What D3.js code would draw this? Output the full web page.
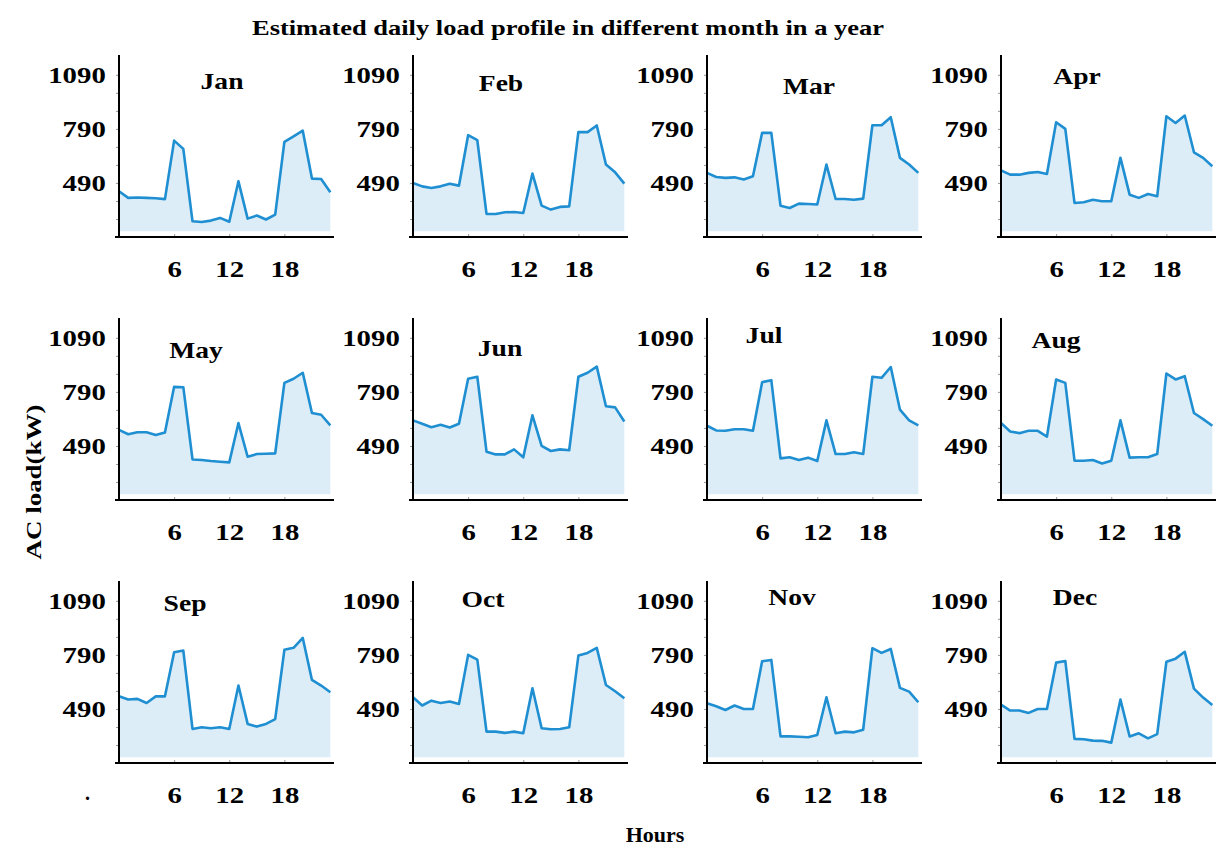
<!DOCTYPE html>
<html>
<head>
<meta charset="utf-8">
<script src="https://cdn.jsdelivr.net/npm/d3@7"></script>
<style>
  body { margin: 0; background: #fff; }
  text { font-family: "Liberation Serif", "Times New Roman", serif; font-weight: bold; }
</style>
</head>
<body>
<svg id="chart" width="1222" height="849"></svg>
<script>
// hourly AC load (kW), hours 0..23
var months = ["Jan", "Feb", "Mar", "Apr", "May", "Jun", "Jul", "Aug", "Sep", "Oct", "Nov", "Dec"];
var hours = d3.range(0, 24);

var jan = [444, 407, 409, 407, 405, 400, 725, 679, 277, 273, 281, 296, 275, 499, 292, 309, 287, 314, 718, 749, 780, 514, 512, 438];
var feb = [490, 471, 462, 471, 486, 475, 755, 727, 318, 318, 327, 329, 323, 542, 364, 342, 357, 360, 773, 772, 809, 592, 549, 486];
var mar = [546, 523, 518, 521, 509, 527, 768, 768, 364, 351, 375, 373, 370, 592, 401, 401, 397, 403, 810, 810, 855, 629, 592, 546];
var apr = [560, 536, 536, 546, 551, 540, 827, 790, 379, 383, 397, 388, 388, 629, 425, 407, 429, 416, 860, 823, 864, 660, 629, 583];
var may = [579, 555, 566, 566, 551, 565, 818, 816, 415, 412, 406, 402, 399, 617, 430, 445, 447, 449, 840, 863, 896, 673, 663, 604];
var jun = [632, 613, 594, 607, 592, 613, 863, 874, 458, 443, 443, 471, 427, 660, 490, 462, 471, 466, 874, 896, 930, 710, 704, 626];
var jul = [602, 576, 574, 583, 583, 574, 844, 855, 421, 427, 412, 425, 406, 632, 445, 445, 455, 445, 874, 868, 928, 691, 632, 604];
var aug = [617, 570, 561, 574, 574, 542, 859, 840, 408, 408, 412, 393, 408, 632, 425, 427, 427, 445, 892, 859, 877, 673, 639, 602];
var sep = [560, 542, 546, 523, 560, 560, 805, 814, 379, 388, 383, 388, 379, 620, 407, 392, 407, 434, 818, 829, 884, 651, 620, 583];
var oct = [555, 509, 536, 523, 531, 518, 790, 764, 364, 364, 357, 364, 355, 605, 383, 377, 379, 388, 786, 801, 829, 623, 588, 549];
var nov = [521, 505, 484, 509, 490, 490, 755, 762, 338, 338, 336, 333, 346, 555, 355, 364, 360, 375, 827, 801, 823, 607, 586, 527];
var dec = [514, 481, 481, 468, 490, 490, 747, 756, 324, 322, 314, 313, 303, 542, 337, 355, 327, 350, 752, 769, 807, 603, 553, 512];

var series = [jan, feb, mar, apr, may, jun, jul, aug, sep, oct, nov, dec];

var yTicks = d3.range(190, 1091, 100);
var yLabels = [490, 790, 1090];
var xTicks = [0, 6, 12, 18];
var xLabels = [6, 12, 18];

// where each month name sits inside its panel (px from the y axis / axis top)
var titleOffset = [[103, 26], [88, 28], [102, 31], [76, 21], [77, 32], [87, 30], [57, 17], [55, 22], [66, 22], [70, 18], [85, 16], [74, 16]];

var svg = d3.select("#chart");

var panelW = 215, panelH = 182;
var left0 = 119, colStep = 294;
var bottom0 = 237, rowStep = 263;
var stretch = 1.2;   // the original type is wide, squeeze it sideways

var x = d3.scaleLinear().domain([0, 23.4]).range([0, panelW]);
var y = d3.scaleLinear().domain([190, 1200]).range([panelH, 0]);

var area = d3.area()
    .x(function(d, i) { return x(hours[i]); })
    .y0(y(222))
    .y1(function(d) { return y(d); });

var line = d3.line()
    .x(function(d, i) { return x(hours[i]); })
    .y(function(d) { return y(d); });

series.forEach(function(vals, m) {
    var col = m % 4, row = Math.floor(m / 4);
    var g = svg.append("g")
        .attr("transform", "translate(" + (left0 + col * colStep) + "," + (bottom0 + row * rowStep - panelH) + ")");

    g.append("path").attr("d", area(vals)).attr("fill", "#dcedf8");
    g.append("path").attr("d", line(vals))
        .attr("fill", "none").attr("stroke", "#1f8fd2").attr("stroke-width", 2.6)
        .attr("stroke-linejoin", "round");

    // y axis
    var ya = g.append("g").call(d3.axisLeft(y)
        .tickValues(yTicks)
        .tickSize(3)
        .tickPadding(8)
        .tickFormat(function(d) { return yLabels.indexOf(d) >= 0 ? d : ""; }));
    ya.select(".domain").remove();
    ya.selectAll(".tick line").attr("stroke", "#999");
    ya.selectAll("text").attr("font-size", 24).attr("fill", "#000")
        .attr("transform", "scale(" + stretch + ",1)");

    // x axis
    var xa = g.append("g").attr("transform", "translate(0," + panelH + ")")
        .call(d3.axisBottom(x)
            .tickValues(xTicks)
            .tickSize(3)
            .tickPadding(20)
            .tickFormat(function(d) { return xLabels.indexOf(d) >= 0 ? d : ""; }));
    xa.select(".domain").remove();
    xa.selectAll(".tick line").attr("stroke", "#999").attr("y1", -3).attr("y2", 0);
    xa.selectAll("text").attr("font-size", 24).attr("fill", "#000")
        .attr("transform", "scale(" + stretch + ",1)");

    g.append("line").attr("x1", 0).attr("x2", 0).attr("y1", 0).attr("y2", panelH + 1)
        .attr("stroke", "#000").attr("stroke-width", 2);
    g.append("line").attr("x1", -4).attr("x2", panelW).attr("y1", panelH).attr("y2", panelH)
        .attr("stroke", "#000").attr("stroke-width", 2);

    g.append("text")
        .attr("transform", "translate(" + titleOffset[m][0] + "," + titleOffset[m][1] + ") scale(" + stretch + ",1)")
        .attr("text-anchor", "middle").attr("dy", "0.35em")
        .attr("font-size", 23)
        .text(months[m]);
});

svg.append("text").attr("x", 568).attr("y", 27).attr("text-anchor", "middle").attr("dy", "0.35em")
    .attr("font-size", 22).attr("textLength", 632).attr("lengthAdjust", "spacingAndGlyphs")
    .text("Estimated daily load profile in different month in a year");

svg.append("text").attr("transform", "translate(33,482) rotate(-90)")
    .attr("text-anchor", "middle").attr("dy", "0.35em")
    .attr("font-size", 22).attr("textLength", 155).attr("lengthAdjust", "spacingAndGlyphs")
    .text("AC load(kW)");

svg.append("text").attr("x", 655).attr("y", 834).attr("text-anchor", "middle").attr("dy", "0.35em")
    .attr("font-size", 22).text("Hours");

svg.append("text").attr("x", 85).attr("y", 800).attr("font-size", 20).text(".");
</script>
</body>
</html>
